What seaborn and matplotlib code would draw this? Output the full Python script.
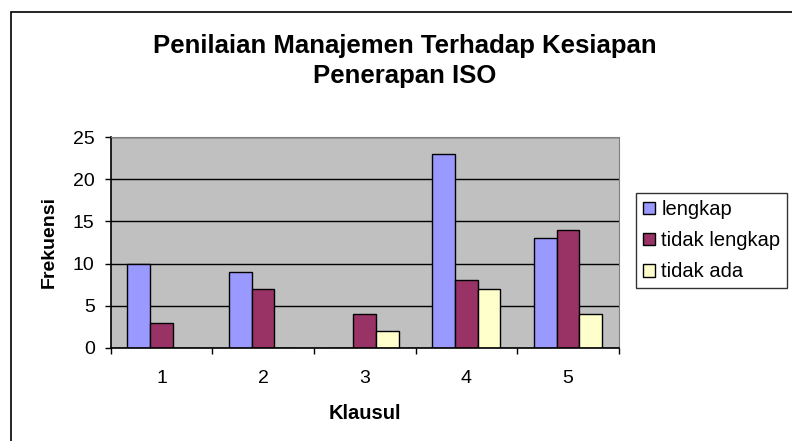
import numpy as np
import pandas as pd
import seaborn as sns
import matplotlib.pyplot as plt
from matplotlib.patches import Rectangle

# data
klausul = ["1", "2", "3", "4", "5"]
lengkap = [10, 9, 0, 23, 13]
tidak_lengkap = [3, 7, 4, 8, 14]
tidak_ada = [0, 0, 2, 7, 4]
series = ["lengkap", "tidak lengkap", "tidak ada"]
colors = ["#9999FF", "#993366", "#FFFFCC"]

df = pd.DataFrame({"Klausul": klausul, "lengkap": lengkap,
                   "tidak lengkap": tidak_lengkap, "tidak ada": tidak_ada})
long = df.melt(id_vars="Klausul", var_name="seri", value_name="Frekuensi")

sns.set_style("white", rc={"text.color": "black", "axes.labelcolor": "black",
                           "xtick.color": "black", "ytick.color": "black"})
plt.rcParams['font.family'] = ['Liberation Sans', 'DejaVu Sans']

fig = plt.figure(figsize=(7.92, 4.41), dpi=100)
ax = fig.add_axes([110.7 / 792, 93 / 441, 508 / 792, 211 / 441])
ax.set_facecolor("#C0C0C0")

sns.barplot(data=long, x="Klausul", y="Frekuensi", hue="seri", hue_order=series,
            palette=colors, width=0.67, gap=0, edgecolor="black", linewidth=1,
            saturation=1, ax=ax, legend=True)

ax.set_ylim(0, 25)
ax.set_yticks(range(0, 26, 5))
ax.yaxis.grid(True, color="black", linewidth=1)
ax.set_axisbelow(True)
ax.set_xlim(-0.5, 4.5)
ax.set_xticks(np.arange(-0.5, 5, 1))
ax.set_xticklabels([])
ax.set_xticks(range(5), minor=True)
ax.set_xticklabels(klausul, minor=True)
ax.tick_params(axis="x", which="major", direction="out", length=4.5, color="black", width=1)
ax.tick_params(axis="x", which="minor", length=0, pad=16, labelsize=14)
ax.tick_params(axis="y", direction="out", length=4.5, color="black", width=1, labelsize=14, pad=7)
ax.tick_params(left=True, bottom=True)

for s in ["top", "right"]:
    ax.spines[s].set_color("#808080")
for s in ["left", "bottom"]:
    ax.spines[s].set_color("black")
    ax.spines[s].set_linewidth(1.2)

ax.set_xlabel("Klausul", fontweight="bold", fontsize=14.5, labelpad=12)
ax.set_ylabel("Frekuensi", fontweight="bold", fontsize=14, labelpad=11)

fig.text(405 / 792, 1 - 61 / 441, "Penilaian Manajemen Terhadap Kesiapan\nPenerapan ISO",
         ha="center", va="center", fontsize=18.5, fontweight="bold", linespacing=1.35)

leg = ax.legend(loc="upper left", bbox_to_anchor=(636 / 792, 1 - 193 / 441),
                bbox_transform=fig.transFigure, frameon=True, fancybox=False,
                edgecolor="black", fontsize=14.5, handlelength=0.6, handleheight=0.6,
                handletextpad=0.3, borderaxespad=0, labelspacing=0.6, borderpad=0.35)
leg.get_frame().set_linewidth(1)

# outer chart border
fig.patches.append(Rectangle((11 / 792, -0.1), 1.2, 1.1 - 12 / 441, transform=fig.transFigure,
                             fill=False, edgecolor="black", linewidth=1.2))

fig.savefig("out.png", dpi=100)
